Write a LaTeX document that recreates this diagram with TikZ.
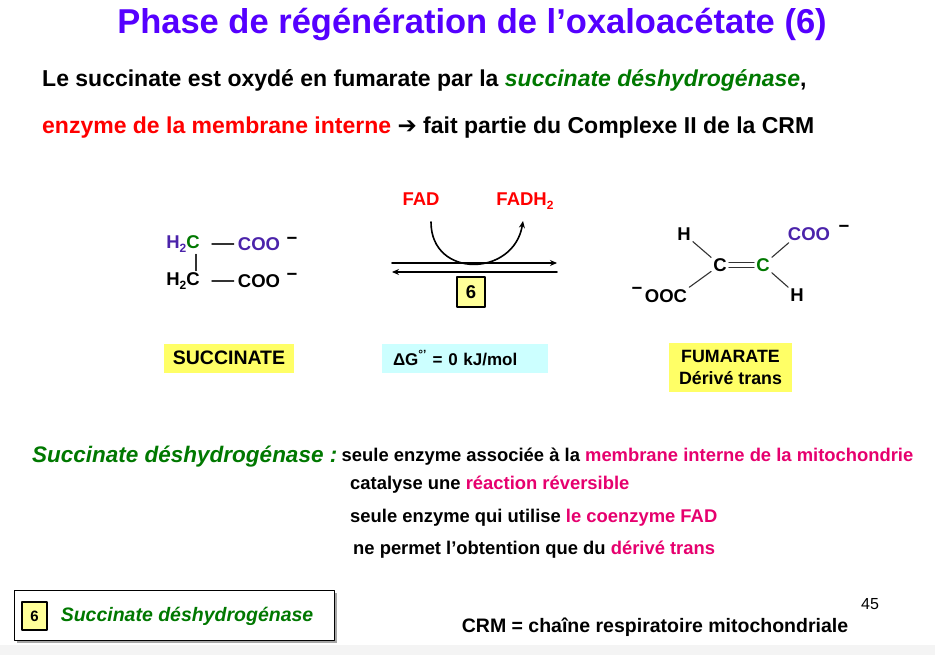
\documentclass[tikz,border=0pt]{standalone}
\usepackage{fontspec}
\setmainfont{Liberation Sans}
\newfontfamily\arrowfont{DejaVu Sans}
\usetikzlibrary{arrows.meta, calc, positioning}

\definecolor{titleviolet}{RGB}{85,0,255}
\definecolor{enzgreen}{RGB}{0,120,0}
\definecolor{chempurple}{RGB}{75,35,170}
\definecolor{hilite}{RGB}{230,0,110}
\definecolor{boxyellow}{RGB}{255,255,102}
\definecolor{paleyellow}{RGB}{255,255,153}
\definecolor{boxcyan}{RGB}{204,255,255}
\definecolor{footgray}{RGB}{244,244,244}

\newcommand{\chemsub}[1]{\raisebox{-0.35ex}{\fontsize{12}{12}\selectfont #1}}

\begin{document}
\begin{tikzpicture}[x=1pt, y=-1pt, line join=round, line cap=round,
	chem/.style={font=\fontsize{18.5}{20}\selectfont\bfseries, inner sep=2pt},
	bond/.style={line width=1.1pt, draw=black!80},
	rxn/.style={line width=1.6pt},
	intro/.style={font=\fontsize{23}{27}\selectfont\bfseries, anchor=west, inner sep=0pt},
	body/.style={font=\fontsize{18.4}{22}\selectfont\bfseries, anchor=west, inner sep=0pt},
	ybox/.style={fill=boxyellow, inner sep=0pt, font=\fontsize{19.5}{22}\selectfont\bfseries},
	numbox/.style={draw, line width=1.2pt, fill=paleyellow, inner sep=0pt, font=\fontsize{18.5}{20}\selectfont\bfseries}
	]
	
	% page and footer band
	\useasboundingbox (0,0) rectangle (935,655);
	\fill[footgray] (0,645) rectangle (935,655);
	
	% --- heading ---
	\node[font=\fontsize{34.5}{40}\selectfont\bfseries, text=titleviolet] (title) at (472,25) {Phase de régénération de l’oxaloacétate (6)};
	\node[intro] (introA) at (42,80) {Le succinate est oxydé en fumarate par la \textcolor{enzgreen}{\itshape succinate déshydrogénase},};
	\node[intro] (introB) at (42,128) {\textcolor{red}{enzyme de la membrane interne} {\arrowfont\bfseries ➔} fait partie du Complexe II de la CRM};
	
	% --- succinate ---
	\node[chem] (ch2a) at (183,244) {\textcolor{chempurple}{H\chemsub{2}}\textcolor{enzgreen}{C}};
	\node[chem, text=chempurple] (cooa) at (259,244) {COO};
	\node[chem] (mina) at (292,241) {−};
	\node[chem] (ch2b) at (183,281) {H\chemsub{2}C};
	\node[chem] (coob) at (259,281) {COO};
	\node[chem] (minb) at (292,277) {−};
	\draw[bond] ([xshift=10pt]ch2a.east) -- ([xshift=-2pt]cooa.west);
	\draw[bond] ([xshift=10pt]ch2b.east) -- ([xshift=-2pt]coob.west);
	\draw[bond] ([xshift=13pt]ch2a.south) -- ([xshift=13pt]ch2b.north);
	
	% --- reaction arrows ---
	\coordinate (fwdL) at (392,263);
	\coordinate (fwdR) at (557,263);
	\coordinate (revL) at (392,272);
	\coordinate (revR) at (557,272);
	\draw[rxn, -{Stealth[length=7pt, width=6pt]}] (fwdL) -- (fwdR);
	\draw[rxn, -{Stealth[length=7pt, width=6pt]}] (revR) -- (revL);
	\node[chem, text=red] (fad) at (421,199) {FAD};
	\node[chem, text=red] (fadh) at (525,201) {FADH\chemsub{2}};
	\coordinate (fadin) at (431,222);
	\coordinate (fadout) at (523,221);
	\draw[rxn, -{Stealth[length=7pt, width=6pt]}] (fadin) .. controls (431,279) and (514,277) .. (fadout);
	\node[numbox, minimum width=28, minimum height=30] (step6) at (471,292) {6};
	
	% --- fumarate ---
	\node[chem] (hup) at (684,234) {H};
	\node[chem] (ca) at (720,265) {C};
	\node[chem, text=enzgreen] (cb) at (763,265) {C};
	\node[chem, text=chempurple] (coor) at (809,234) {COO};
	\node[chem] (minr) at (844,229) {−};
	\node[chem] (hdown) at (797,295) {H};
	\node[chem] (cool) at (666,296) {OOC};
	\node[chem] (minl) at (637,291) {−};
	\draw[bond] (hup) -- (ca);
	\draw[bond] (ca) -- (cool.north east);
	\draw[bond] (cb) -- ([xshift=3pt]coor.south west);
	\draw[bond] (cb) -- (hdown);
	\draw[bond] ([yshift=2.5pt]ca.east) -- ([yshift=2.5pt]cb.west);
	\draw[bond] ([yshift=-2.5pt]ca.east) -- ([yshift=-2.5pt]cb.west);
	
	% --- labels under the equation ---
	\node[ybox, minimum width=130, minimum height=29] (succ) at (229,358) {SUCCINATE};
	\node[fill=boxcyan, inner xsep=11pt, inner ysep=0pt, text width=144, minimum height=29, align=left, font=\fontsize{17}{20}\selectfont\bfseries] (dg) at (465,358) {ΔG\textsuperscript{°’} = 0 kJ/mol};
	\node[ybox, minimum width=123, minimum height=49, align=center, font=\fontsize{17.8}{22}\selectfont\bfseries] (fum) at (730.5,367.5) {FUMARATE\\Dérivé trans};
	
	% --- properties of the enzyme ---
	\node[body, font=\fontsize{22.5}{26}\selectfont\bfseries\itshape, text=enzgreen] (enzname) at (32,457) {Succinate déshydrogénase :};
	\node[body, right=4pt of enzname] (roleA) {seule enzyme associée à la \textcolor{hilite}{membrane interne de la mitochondrie}};
	\node[body] (roleB) at (350,485) {catalyse une \textcolor{hilite}{réaction réversible}};
	\node[body] (roleC) at (350,518) {seule enzyme qui utilise \textcolor{hilite}{le coenzyme FAD}};
	\node[body] (roleD) at (353,550) {ne permet l’obtention que du \textcolor{hilite}{dérivé trans}};
	
	% --- legend and footer ---
	\fill[black!35] (17,593) rectangle (337,643);
	\draw[fill=white, line width=0.8pt] (14,590) rectangle (334,640);
	\node[numbox, minimum width=25, minimum height=28, font=\fontsize{15}{18}\selectfont\bfseries] (leg6) at (34.5,616) {6};
	\node[body, right=13pt of leg6, font=\fontsize{19.5}{22}\selectfont\bfseries\itshape, text=enzgreen] (legname) {Succinate déshydrogénase};
	\node[font=\fontsize{16}{18}\selectfont] (page) at (870,604) {45};
	\node[font=\fontsize{19.5}{22}\selectfont\bfseries] (crm) at (655,627) {CRM = chaîne respiratoire mitochondriale};
	
\end{tikzpicture}
\end{document}
